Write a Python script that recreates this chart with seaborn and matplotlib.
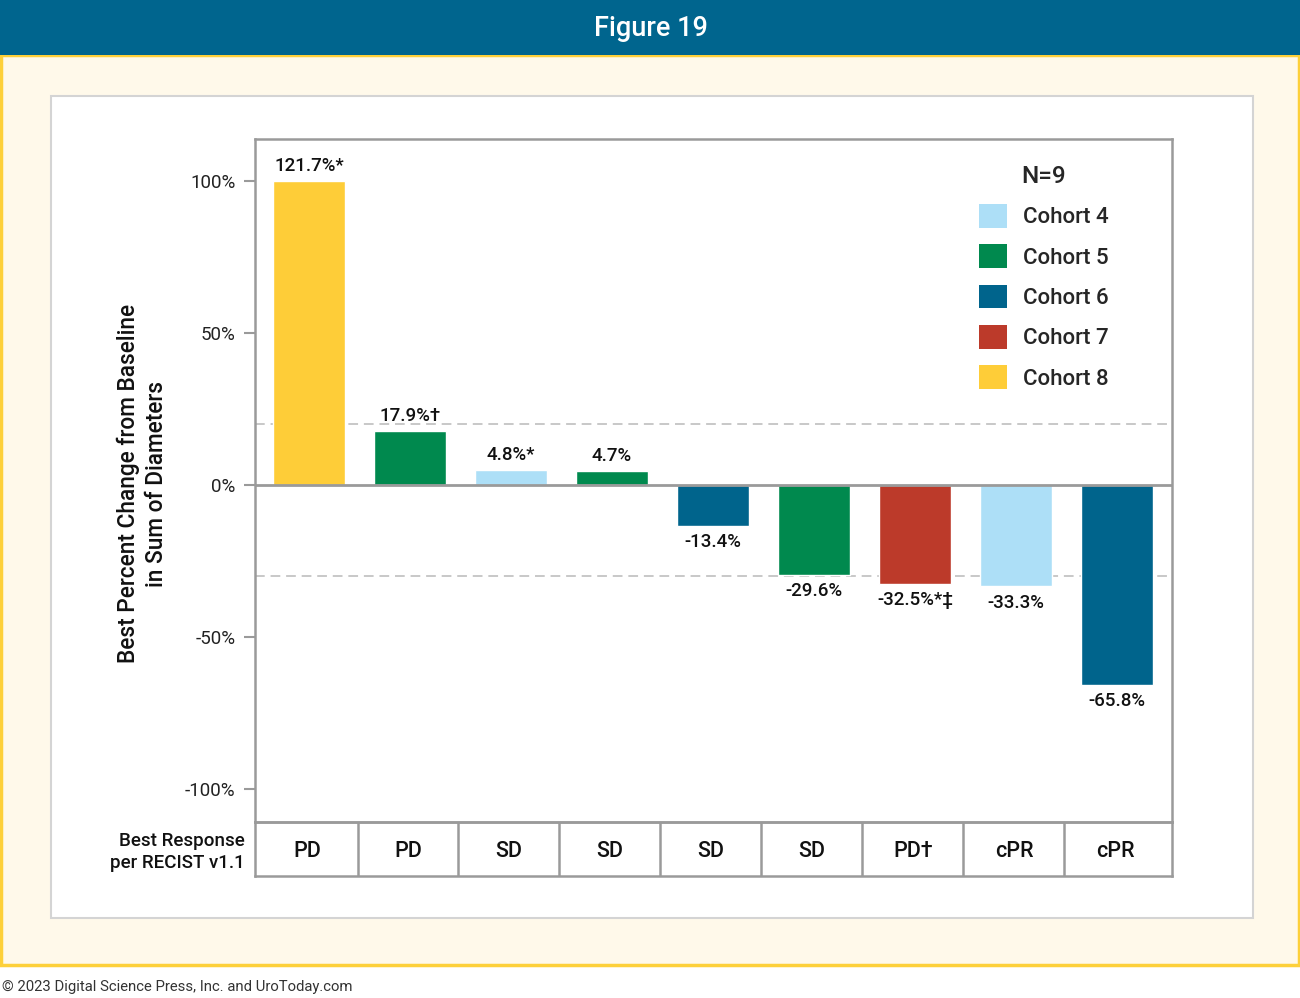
import numpy as np
import pandas as pd
import seaborn as sns
import matplotlib.pyplot as plt
from matplotlib.patches import Rectangle, Patch

# Data
patients = ["1", "2", "3", "4", "5", "6", "7", "8", "9"]
changes = [121.7, 17.9, 4.8, 4.7, -13.4, -29.6, -32.5, -33.3, -65.8]
bar_labels = ["121.7%*", "17.9%†", "4.8%*", "4.7%", "-13.4%", "-29.6%",
              "-32.5%*‡", "-33.3%", "-65.8%"]
cohorts = ["Cohort 8", "Cohort 5", "Cohort 4", "Cohort 5", "Cohort 6",
           "Cohort 5", "Cohort 7", "Cohort 4", "Cohort 6"]
responses = ["PD", "PD", "SD", "SD", "SD", "SD", "PD†", "cPR", "cPR"]
cohort_order = ["Cohort 4", "Cohort 5", "Cohort 6", "Cohort 7", "Cohort 8"]
cohort_colors = ["#addff7", "#00894e", "#00648c", "#bc3a2a", "#fecd38"]
y_ticks = [-100, -50, 0, 50, 100]
cap = 100  # bars above this are drawn truncated

palette = dict(zip(cohort_order, cohort_colors))
df = pd.DataFrame({"patient": patients, "change": changes, "cohort": cohorts})
df["shown"] = np.minimum(df["change"], cap)

sns.set_style("white")
plt.rcParams["font.family"] = ["Roboto", "DejaVu Sans"]
WT = "medium"

W, H = 1300, 998
fig = plt.figure(figsize=(W / 100, H / 100), dpi=100)


def px_rect(x0, y0, x1, y1, **kw):
    # rectangle given in pixel coords from top-left
    r = Rectangle((x0 / W, 1 - y1 / H), (x1 - x0) / W, (y1 - y0) / H,
                  transform=fig.transFigure, **kw)
    fig.add_artist(r)
    return r


# background frame
px_rect(1, 55, 1299, 965, facecolor="#fff9ea", edgecolor="#fdd03a",
        linewidth=2.5, zorder=-12)
px_rect(0, 0, 1300, 55, facecolor="#00658e", edgecolor="none", zorder=-11)
px_rect(51, 96, 1253, 918, facecolor="white", edgecolor="#d4d4d4",
        linewidth=1.5, zorder=-10)
fig.text(651 / W, 1 - 28 / H, "Figure 19", color="white", fontsize=19.5,
         ha="center", va="center", fontweight=WT)
fig.text(2 / W, 1 - 987 / H, "© 2023 Digital Science Press, Inc. and UroToday.com",
         color="#333333", fontsize=10.7, ha="left", va="center")

# main axes
left, right, top, bottom = 255, 1172, 139, 822
ax = fig.add_axes([left / W, 1 - bottom / H, (right - left) / W, (bottom - top) / H])
ax.set_facecolor("none")

sns.barplot(data=df, x="patient", y="shown", hue="cohort", palette=palette,
            dodge=False, width=0.71, legend=False, saturation=1, ax=ax)

ax.set_xlim(-0.535, 8.545)
ax.set_ylim(-111, 114)
ax.axhline(0, color="#9a9a9a", linewidth=2, zorder=3)
for ref in [20, -30]:
    ax.axhline(ref, color="#c8c8c8", linewidth=1.4, linestyle=(0, (5, 3)), zorder=0.5)

for i, (v, lab) in enumerate(zip(df["shown"], bar_labels)):
    if v >= 0:
        ax.text(i, v + 2, lab, ha="center", va="bottom", fontsize=13.5,
                fontweight=WT, color="#111111")
    else:
        ax.text(i, v - 2.5, lab, ha="center", va="top", fontsize=13.5,
                fontweight=WT, color="#111111")

ax.set_yticks(y_ticks)
ax.set_yticklabels([f"{t}%" for t in y_ticks], fontsize=13.5, color="#222222")
ax.set_xticks([])
ax.set_xlabel("")
ax.tick_params(axis="y", left=True, length=8, width=1.5, color="#9a9a9a", pad=6)
for s in ax.spines.values():
    s.set_color("#9a9a9a")
    s.set_linewidth(1.8)
ax.set_ylabel("Best Percent Change from Baseline\nin Sum of Diameters",
              fontsize=16.3, fontweight=WT, color="#111111", linespacing=1.25)
ax.yaxis.set_label_coords(-0.095, 0.495)

handles = [Patch(facecolor=c, edgecolor="none") for c in cohort_colors]
leg = ax.legend(handles, cohort_order, title="N=9", loc="upper left",
                bbox_to_anchor=((970 - left) / (right - left), 1 - (156 - top) / (bottom - top)),
                frameon=False, fontsize=16, title_fontsize=17.5,
                handlelength=1.27, handleheight=1.27, handletextpad=0.7,
                labelspacing=0.72, borderaxespad=0)
leg.get_title().set_fontweight(WT)
for t in leg.get_texts():
    t.set_fontweight(WT)

# response table row under the bars
tab = fig.add_axes([left / W, 1 - 876 / H, (right - left) / W, 54 / H], sharex=ax)
tab.set_ylim(0, 1)
tab.set_facecolor("none")
tab.tick_params(left=False, bottom=False, labelleft=False, labelbottom=False)
for s in tab.spines.values():
    s.set_color("#9a9a9a")
    s.set_linewidth(1.8)
for i in range(len(responses) - 1):
    tab.axvline(i + 0.48, color="#9a9a9a", linewidth=1.8)
for i, r in enumerate(responses):
    tab.text(i - 0.02, 0.45, r, ha="center", va="center", fontsize=15.5,
             fontweight=WT, color="#111111")
tab.text(-0.635, 0.45, "Best Response\nper RECIST v1.1", ha="right", va="center",
         fontsize=13.5, fontweight=WT, color="#111111", linespacing=1.3)

fig.savefig("out.png", dpi=100)
